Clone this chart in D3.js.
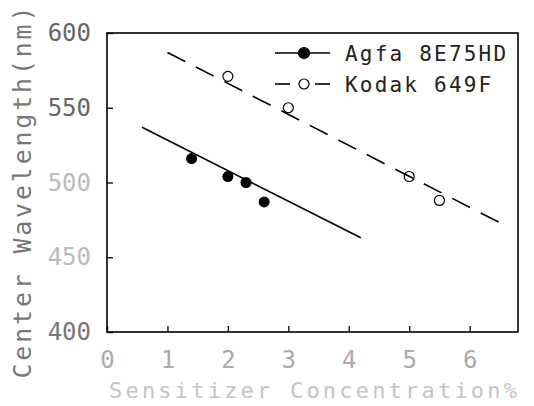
<!DOCTYPE html>
<html><head><meta charset="utf-8">
<script src="https://cdn.jsdelivr.net/npm/d3@7"></script>
<style>html,body{margin:0;padding:0;background:#fff;}</style>
</head><body>
<script>
// Data
const agfaX = [1.4, 2.0, 2.3, 2.6];
const agfaY = [516, 504, 500, 487];
const kodakX = [2.0, 3.0, 5.0, 5.5];
const kodakY = [571, 550, 504, 488];
const agfaFitX = [0.58, 4.2];
const agfaFitY = [537, 463];
const kodakFitX = [1.0, 6.6];
const kodakFitY = [587, 471];
const xTicks = [0, 1, 2, 3, 4, 5, 6];
const yTicks = [400, 450, 500, 550, 600];
const seriesNames = ["Agfa 8E75HD", "Kodak 649F"];

const W = 534, H = 406;
const m = {left: 107, right: 16, top: 33, bottom: 74};
const svg = d3.select("body").append("svg").attr("width", W).attr("height", H);
const x = d3.scaleLinear().domain([0, 6.8]).range([m.left, W - m.right]);
const y = d3.scaleLinear().domain([400, 600]).range([H - m.bottom, m.top]);
const font = "DejaVu Sans Mono";

// frame
svg.append("rect").attr("x", m.left).attr("y", m.top)
  .attr("width", W - m.right - m.left).attr("height", H - m.bottom - m.top)
  .attr("fill", "none").attr("stroke", "#000").attr("stroke-width", 1.6);

// axes with inward ticks
const xAxis = svg.append("g").attr("transform", `translate(0,${H - m.bottom})`)
  .call(d3.axisBottom(x).tickValues(xTicks).tickSize(-6).tickPadding(14).tickFormat(d3.format("d")));
xAxis.select(".domain").remove();
xAxis.selectAll(".tick line").attr("stroke", "#000").attr("stroke-width", 1.3);
xAxis.selectAll(".tick text").attr("font-family", font).attr("font-size", 24)
  .attr("fill", "#aaa").attr("dy", "0.9em");

const yColors = {400: "#777", 450: "#bbb", 500: "#bbb", 550: "#666", 600: "#666"};
const yAxis = svg.append("g").attr("transform", `translate(${m.left},0)`)
  .call(d3.axisLeft(y).tickValues(yTicks).tickSize(-6).tickPadding(16).tickFormat(d3.format("d")));
yAxis.select(".domain").remove();
yAxis.selectAll(".tick line").attr("stroke", "#000").attr("stroke-width", 1.3);
yAxis.selectAll(".tick text").attr("font-family", font).attr("font-size", 24)
  .attr("fill", d => yColors[d]);

// axis titles
svg.append("text").attr("transform", `translate(31,${(5 + 380) / 2}) rotate(-90)`)
  .attr("text-anchor", "middle").attr("font-family", font).attr("font-size", 25)
  .attr("textLength", 372).attr("lengthAdjust", "spacing")
  .attr("fill", "#777").text("Center Wavelength(nm)");
svg.append("text").attr("x", (108 + 518) / 2).attr("y", 398)
  .attr("text-anchor", "middle").attr("font-family", font).attr("font-size", 22)
  .attr("textLength", 408).attr("lengthAdjust", "spacing")
  .attr("fill", "#c4c4c4").text("Sensitizer Concentration%");

// fit lines
const line = d3.line().x(d => x(d[0])).y(d => y(d[1]));
svg.append("path").datum(d3.zip(agfaFitX, agfaFitY)).attr("d", line)
  .attr("fill", "none").attr("stroke", "#000").attr("stroke-width", 1.6);
svg.append("path").datum(d3.zip(kodakFitX, kodakFitY)).attr("d", line)
  .attr("fill", "none").attr("stroke", "#000").attr("stroke-width", 1.6)
  .attr("stroke-dasharray", "20,12");

// points
svg.selectAll(".agfa").data(d3.zip(agfaX, agfaY)).enter().append("circle")
  .attr("cx", d => x(d[0])).attr("cy", d => y(d[1])).attr("r", 5.5).attr("fill", "#000");
svg.selectAll(".kodak").data(d3.zip(kodakX, kodakY)).enter().append("circle")
  .attr("cx", d => x(d[0])).attr("cy", d => y(d[1])).attr("r", 5)
  .attr("fill", "none").attr("stroke", "#000").attr("stroke-width", 1.2);

// legend
const lg = svg.append("g");
const rows = [{y: 53, dash: null, filled: true}, {y: 84, dash: "15,12", filled: false}];
rows.forEach((r, i) => {
  if (r.dash) {
    lg.append("line").attr("x1", 275).attr("x2", 290).attr("y1", r.y).attr("y2", r.y)
      .attr("stroke", "#000").attr("stroke-width", 1.6);
    lg.append("line").attr("x1", 315).attr("x2", 330).attr("y1", r.y).attr("y2", r.y)
      .attr("stroke", "#000").attr("stroke-width", 1.6);
  } else {
    lg.append("line").attr("x1", 275).attr("x2", 330).attr("y1", r.y).attr("y2", r.y)
      .attr("stroke", "#000").attr("stroke-width", 1.6);
  }
  lg.append("circle").attr("cx", 304).attr("cy", r.y).attr("r", r.filled ? 5.5 : 5)
    .attr("fill", r.filled ? "#000" : "#fff").attr("stroke", "#000").attr("stroke-width", 1.2);
  lg.append("text").attr("x", 345).attr("y", r.y).attr("dy", "0.36em")
    .attr("font-family", font).attr("font-size", 21).attr("fill", "#222")
    .attr("letter-spacing", 2.2).text(seriesNames[i]);
});
</script>
</body></html>
